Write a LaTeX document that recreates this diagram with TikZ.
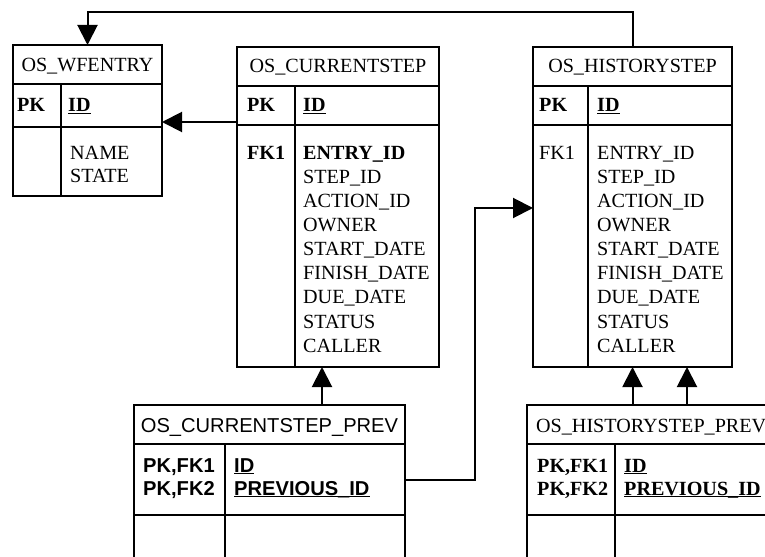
\documentclass[tikz,border=0pt]{standalone}
\usepackage{fontspec}
\setmainfont{Liberation Serif}
\setsansfont{Liberation Sans}
\usetikzlibrary{arrows.meta}

% underlined key column name
\newcommand\keyul[1]{\setbox0\hbox{#1}\rlap{\rule[-2.4bp]{\wd0}{1.1bp}}\box0}
\newcommand\tblsize{\fontsize{20.2}{24}\selectfont}

\begin{document}
\begin{tikzpicture}[x=1bp,y=-1bp,
  tbl/.style={draw, line width=1.2bp, anchor=north west, inner sep=0pt, outer sep=0pt, fill=white},
  rule/.style={line width=1.2bp},
  txt/.style={anchor=base west, inner sep=0pt, font=\tblsize},
  ttl/.style={anchor=base, inner sep=0pt, font=\tblsize},
  sanstxt/.style={txt, font=\sffamily\bfseries\tblsize},
  fk/.style={line width=2bp, -{Triangle[length=20bp,width=20bp]}}
]
\useasboundingbox (0,0) rectangle (765,557);
\fill[white] (0,0) rectangle (765,557);
\clip (0,0) rectangle (765,557);

% ---------- OS_WFENTRY ----------
\node[tbl, line width=2bp, minimum width=149bp, minimum height=151bp] (wf) at (13,45) {};
\draw[line width=2bp] (13,84) -- (162,84) (13,127) -- (162,127) (61,84) -- (61,196);
\node[ttl] (wf-t) at (87.5,72) {OS\_WFENTRY};
\node[txt] (wf-pk) at (17,112) {\textbf{PK}};
\node[txt] (wf-id) at (68,112) {\keyul{\textbf{ID}}};
\node[txt] (wf-f1) at (70,160) {NAME};
\node[txt] (wf-f2) at (70,183) {STATE};

% ---------- OS_CURRENTSTEP ----------
\node[tbl, minimum width=202bp, minimum height=320bp] (cs) at (237,47) {};
\draw[rule] (237,86) -- (439,86) (237,125) -- (439,125) (295,86) -- (295,367);
\node[ttl] (cs-t) at (338,73) {OS\_CURRENTSTEP};
\node[txt] (cs-pk) at (247,112) {\textbf{PK}};
\node[txt] (cs-id) at (303,112) {\keyul{\textbf{ID}}};
\node[txt] (cs-fk) at (247,160) {\textbf{FK1}};
\node[txt] (cs-f1) at (303,160) {\textbf{ENTRY\_ID}};
\foreach \t [count=\i] in {STEP\_ID,ACTION\_ID,OWNER,START\_DATE,FINISH\_DATE,DUE\_DATE,STATUS,CALLER}
  \node[txt] (cs-g\i) at (303,{160+24*\i}) {\t};

% ---------- OS_HISTORYSTEP ----------
\node[tbl, minimum width=199bp, minimum height=320bp] (hs) at (533,47) {};
\draw[rule] (533,86) -- (732,86) (533,125) -- (732,125) (588,86) -- (588,367);
\node[ttl] (hs-t) at (632.5,73) {OS\_HISTORYSTEP};
\node[txt] (hs-pk) at (539,112) {\textbf{PK}};
\node[txt] (hs-id) at (597,112) {\keyul{\textbf{ID}}};
\node[txt] (hs-fk) at (539,160) {FK1};
\foreach \t [count=\i from 0] in {ENTRY\_ID,STEP\_ID,ACTION\_ID,OWNER,START\_DATE,FINISH\_DATE,DUE\_DATE,STATUS,CALLER}
  \node[txt] (hs-g\i) at (597,{160+24*\i}) {\t};

% ---------- OS_CURRENTSTEP_PREV ----------
\node[tbl, minimum width=271bp, minimum height=200bp] (csp) at (134,405) {};
\draw[rule] (134,444) -- (405,444) (134,515) -- (405,515) (225,444) -- (225,605);
\node[ttl, font=\sffamily\tblsize] (csp-t) at (269.5,432) {OS\_CURRENTSTEP\_PREV};
\node[sanstxt] (csp-k1) at (143,472) {PK,FK1};
\node[sanstxt] (csp-k2) at (143,495) {PK,FK2};
\node[sanstxt] (csp-f1) at (234,472) {\keyul{ID}};
\node[sanstxt] (csp-f2) at (234,495) {\keyul{PREVIOUS\_ID}};

% ---------- OS_HISTORYSTEP_PREV ----------
\node[tbl, minimum width=263bp, minimum height=200bp] (hsp) at (527,405) {};
\draw[rule] (527,444) -- (790,444) (527,515) -- (790,515) (615,444) -- (615,605);
\node[txt] (hsp-t) at (536,432) {OS\_HISTORYSTEP\_PREV};
\node[txt] (hsp-k1) at (537,472) {\textbf{PK,FK1}};
\node[txt] (hsp-k2) at (537,495) {\textbf{PK,FK2}};
\node[txt] (hsp-f1) at (624,472) {\keyul{\textbf{ID}}};
\node[txt] (hsp-f2) at (624,495) {\keyul{\textbf{PREVIOUS\_ID}}};

% ---------- relationships ----------
\coordinate (wfrow) at (0,122);
\coordinate (csdrop) at (322,0);
\coordinate (bend) at (475,208);
\coordinate (hsdrop) at (687,0);

\draw[fk] (cs.west |- wfrow) -- (wf.east |- wfrow);
\draw[fk] (hs.north) -- ++(0,-35) -| (wf.north);
\draw[fk] (csp.north -| csdrop) -- (cs.south -| csdrop);
\draw[fk] (csp.east |- 0,480) -| (bend) -- (hs.west |- bend);
\draw[fk] (hsp.north -| hs.south) -- (hs.south);
\draw[fk] (hsp.north -| hsdrop) -- (hs.south -| hsdrop);
\end{tikzpicture}
\end{document}
